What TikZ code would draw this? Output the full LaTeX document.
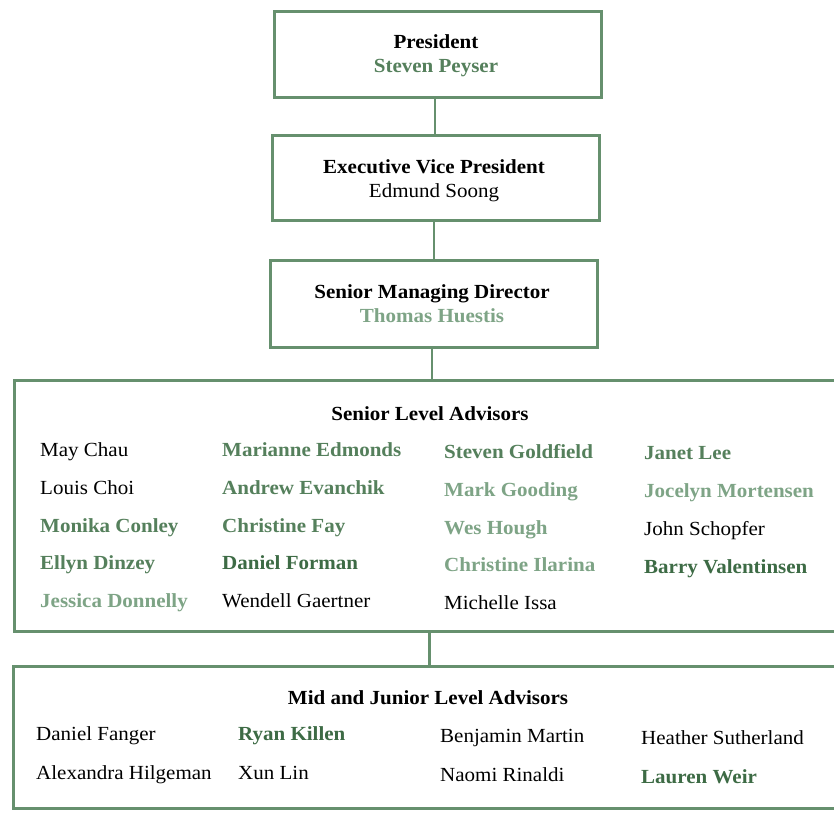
\documentclass[tikz,border=0pt]{standalone}
\usepackage{fontspec}
\setmainfont{Liberation Serif}[FakeStretch=1.05]
\definecolor{boxgreen}{HTML}{66906E}
\definecolor{gdark}{HTML}{3D6B45}
\definecolor{gmid}{HTML}{55805C}
\definecolor{glight}{HTML}{7EA486}
\begin{document}
\begin{tikzpicture}[x=1pt,y=-1pt,
  box/.style={draw=boxgreen,line width=3pt,rectangle,inner sep=0pt,fill=white},
  conn/.style={draw=boxgreen,line width=2.5pt},
  txt/.style={font=\fontsize{20}{24}\selectfont,inner sep=0pt,anchor=base west},
  ctxt/.style={font=\fontsize{20}{24}\selectfont,inner sep=0pt,anchor=base},
  bk/.style={text=black},
  bkb/.style={text=black,font=\fontsize{20}{24}\selectfont\bfseries},
  gd/.style={text=gdark,font=\fontsize{20}{24}\selectfont\bfseries},
  gm/.style={text=gmid,font=\fontsize{20}{24}\selectfont\bfseries},
  gl/.style={text=glight,font=\fontsize{20}{24}\selectfont\bfseries}]
\clip (0,0) rectangle (834,813);
\fill[white] (0,0) rectangle (834,813);
% boxes
\node[box,minimum width=327pt,minimum height=86pt] (pres) at (437.5,54.5) {};
\node[box,minimum width=327pt,minimum height=84pt] (evp) at (435.5,178) {};
\node[box,minimum width=327pt,minimum height=87pt] (smd) at (433.5,303.5) {};
\node[box,minimum width=831pt,minimum height=251pt] (senior) at (429.5,505.5) {};
\node[box,minimum width=832pt,minimum height=142pt] (mid) at (429,737) {};
% connectors
\draw[conn] ([xshift=-2.5pt]pres.south) -- ([xshift=-2.5pt]pres.south |- evp.north);
\draw[conn] ([xshift=-1.5pt]evp.south) -- ([xshift=-1.5pt]evp.south |- smd.north);
\draw[conn] ([xshift=-1.5pt]smd.south) -- ([xshift=-1.5pt]smd.south |- senior.north);
\draw[conn] (senior.south) -- (senior.south |- mid.north);
% top box texts
\node[ctxt,bkb] (t1) at (436,49) {President};
\node[ctxt,gm] (n1) at (436,73) {Steven Peyser};
\node[ctxt,bkb] (t2) at (434,173) {Executive Vice President};
\node[ctxt,bk] (n2) at (434,197) {Edmund Soong};
\node[ctxt,bkb] (t3) at (432,298) {Senior Managing Director};
\node[ctxt,gl] (n3) at (432,322) {Thomas Huestis};
% senior level
\node[ctxt,bkb] (st) at (430,420) {Senior Level Advisors};
\node[txt,bk] (s11) at (40,456) {May Chau};
\node[txt,bk] (s12) at (40,494) {Louis Choi};
\node[txt,gm] (s13) at (40,532) {Monika Conley};
\node[txt,gm] (s14) at (40,569) {Ellyn Dinzey};
\node[txt,gl] (s15) at (40,607) {Jessica Donnelly};
\node[txt,gm] (s21) at (222,456) {Marianne Edmonds};
\node[txt,gm] (s22) at (222,494) {Andrew Evanchik};
\node[txt,gm] (s23) at (222,532) {Christine Fay};
\node[txt,gd] (s24) at (222,569) {Daniel Forman};
\node[txt,bk] (s25) at (222,607) {Wendell Gaertner};
\node[txt,gm] (s31) at (444,458) {Steven Goldfield};
\node[txt,gl] (s32) at (444,496) {Mark Gooding};
\node[txt,gl] (s33) at (444,534) {Wes Hough};
\node[txt,gl] (s34) at (444,571) {Christine Ilarina};
\node[txt,bk] (s35) at (444,609) {Michelle Issa};
\node[txt,gm] (s41) at (644,459) {Janet Lee};
\node[txt,gl] (s42) at (644,497) {Jocelyn Mortensen};
\node[txt,bk] (s43) at (644,535) {John Schopfer};
\node[txt,gd] (s44) at (644,573) {Barry Valentinsen};
% mid and junior
\node[ctxt,bkb] (mt) at (428,704) {Mid and Junior Level Advisors};
\node[txt,bk] (m11) at (36,740) {Daniel Fanger};
\node[txt,bk] (m12) at (36,779) {Alexandra Hilgeman};
\node[txt,gd] (m21) at (238,740) {Ryan Killen};
\node[txt,bk] (m22) at (238,779) {Xun Lin};
\node[txt,bk] (m31) at (440,742) {Benjamin Martin};
\node[txt,bk] (m32) at (440,781) {Naomi Rinaldi};
\node[txt,bk] (m41) at (641,744) {Heather Sutherland};
\node[txt,gd] (m42) at (641,783) {Lauren Weir};
\end{tikzpicture}
\end{document}
